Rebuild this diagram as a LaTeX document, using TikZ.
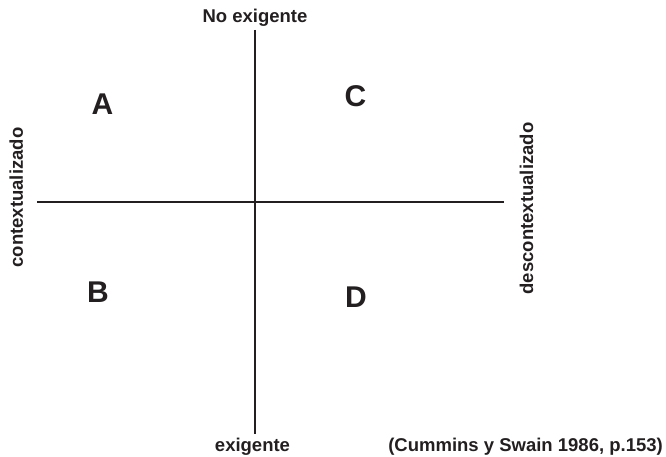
\documentclass[tikz,border=0pt]{standalone}
\usepackage{fontspec}
\setmainfont{Liberation Sans}
\definecolor{ink}{HTML}{231F20}
\begin{document}
\begin{tikzpicture}[x=1pt,y=-1pt,
  axis/.style={draw=ink,line width=2pt},
  lbl/.style={text=ink,font=\bfseries\fontsize{18.5}{22}\selectfont,inner sep=0pt,anchor=base},
  quad/.style={text=ink,font=\bfseries\fontsize{30}{36}\selectfont,inner sep=0pt,anchor=base}]
\useasboundingbox (0,0) rectangle (666,457);
\coordinate (vtop) at (255,30);
\coordinate (vbot) at (255,434);
\coordinate (hleft) at (37,201.5);
\coordinate (hright) at (504,201.5);
\draw[axis] (vtop) -- (vbot);
\draw[axis] (hleft) -- (hright);
\node[lbl] (top) at (255,23) {No exigente};
\node[lbl] (bot) at (252.5,451) {exigente};
\node[lbl,anchor=base east] (ref) at (663,451) {(Cummins y Swain 1986, p.153)};
\node[lbl,rotate=90] (left) at (23,197.5) {contextualizado};
\node[lbl,rotate=90] (right) at (533,208.5) {descontextualizado};
\node[quad] (A) at (102.5,115) {A};
\node[quad] (C) at (355.5,106.5) {C};
\node[quad] (B) at (98,302) {B};
\node[quad] (D) at (356,307) {D};
\end{tikzpicture}
\end{document}
